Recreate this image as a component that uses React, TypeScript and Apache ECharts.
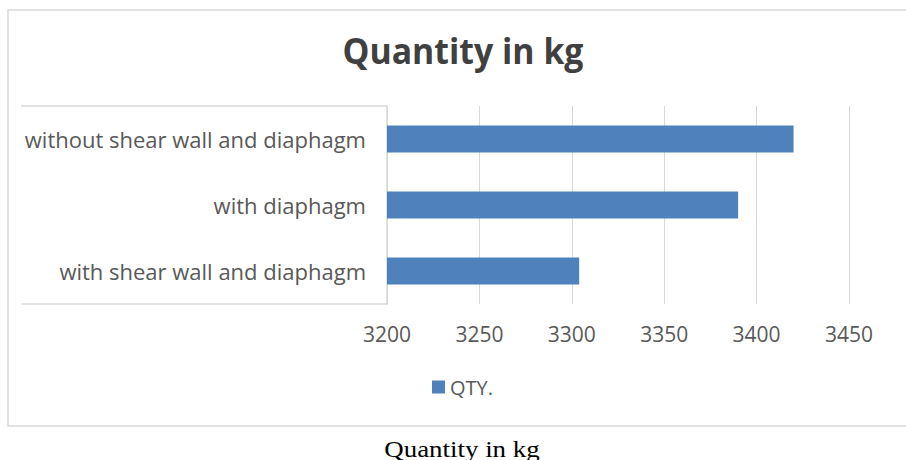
import React, { useEffect, useRef } from "react";
import * as echarts from "echarts";

const categories = [
  "without shear wall and diaphagm",
  "with diaphagm",
  "with shear wall and diaphagm",
];
const qtyValues = [3420, 3390, 3304];
const seriesName = "QTY.";
const chartTitle = "Quantity in kg";
const caption = "Quantity in kg";

export default function App() {
  const ref = useRef<HTMLDivElement>(null);
  useEffect(() => {
    if (!ref.current) return;
    const chart = echarts.init(ref.current, null, { renderer: "svg" });
    chart.setOption({
      animation: false,
      textStyle: { fontFamily: "Open Sans" },
      grid: { left: 387, right: 57, top: 106, bottom: 156, containLabel: false },
      legend: {
        data: [seriesName],
        left: 432,
        top: 377,
        icon: "rect",
        itemWidth: 13,
        itemHeight: 13,
        itemGap: 10,
        padding: 0,
        textStyle: { fontSize: 20, color: "#595959", fontFamily: "Open Sans" },
      },
      xAxis: {
        type: "value",
        min: 3200,
        max: 3450,
        interval: 50,
        axisLine: { show: false },
        axisTick: { show: false },
        splitLine: { lineStyle: { color: "#d9d9d9", width: 1 } },
        axisLabel: {
          fontSize: 21,
          color: "#595959",
          margin: 19,
          formatter: (v: number) => String(v),
        },
      },
      yAxis: {
        type: "category",
        inverse: true,
        data: categories,
        axisLine: { show: true, lineStyle: { color: "#d9d9d9", width: 1.5 } },
        axisTick: { show: false },
        axisLabel: { fontSize: 22, color: "#595959", margin: 21 },
      },
      series: [
        {
          name: seriesName,
          type: "bar",
          data: qtyValues,
          barWidth: 27,
          itemStyle: { color: "#4f81bd" },
        },
      ],
      graphic: [
        {
          type: "rect",
          shape: { x: 8, y: 10, width: 910, height: 416 },
          style: { fill: "none", stroke: "#d9d9d9", lineWidth: 1.5 },
          silent: true,
        },
        {
          type: "line",
          shape: { x1: 21, y1: 106, x2: 387, y2: 106 },
          style: { stroke: "#d9d9d9", lineWidth: 1.5 },
          silent: true,
        },
        {
          type: "line",
          shape: { x1: 21, y1: 304, x2: 387, y2: 304 },
          style: { stroke: "#d9d9d9", lineWidth: 1.5 },
          silent: true,
        },
        {
          type: "text",
          x: 463,
          y: 50,
          scaleX: 0.94,
          style: {
            text: chartTitle,
            fontSize: 36,
            fontWeight: "bold",
            fill: "#404040",
            fontFamily: "Open Sans",
            align: "center",
            verticalAlign: "middle",
          },
        },
        {
          type: "text",
          x: 462,
          y: 449,
          scaleX: 1.17,
          style: {
            text: caption,
            fontSize: 23,
            fill: "#000000",
            fontFamily: "Liberation Serif",
            align: "center",
            verticalAlign: "middle",
          },
        },
      ],
    });
    return () => chart.dispose();
  }, []);
  return (
    <div
      ref={ref}
      style={{ position: "fixed", left: 0, top: 0, width: 906, height: 460, background: "#fff" }}
    />
  );
}
